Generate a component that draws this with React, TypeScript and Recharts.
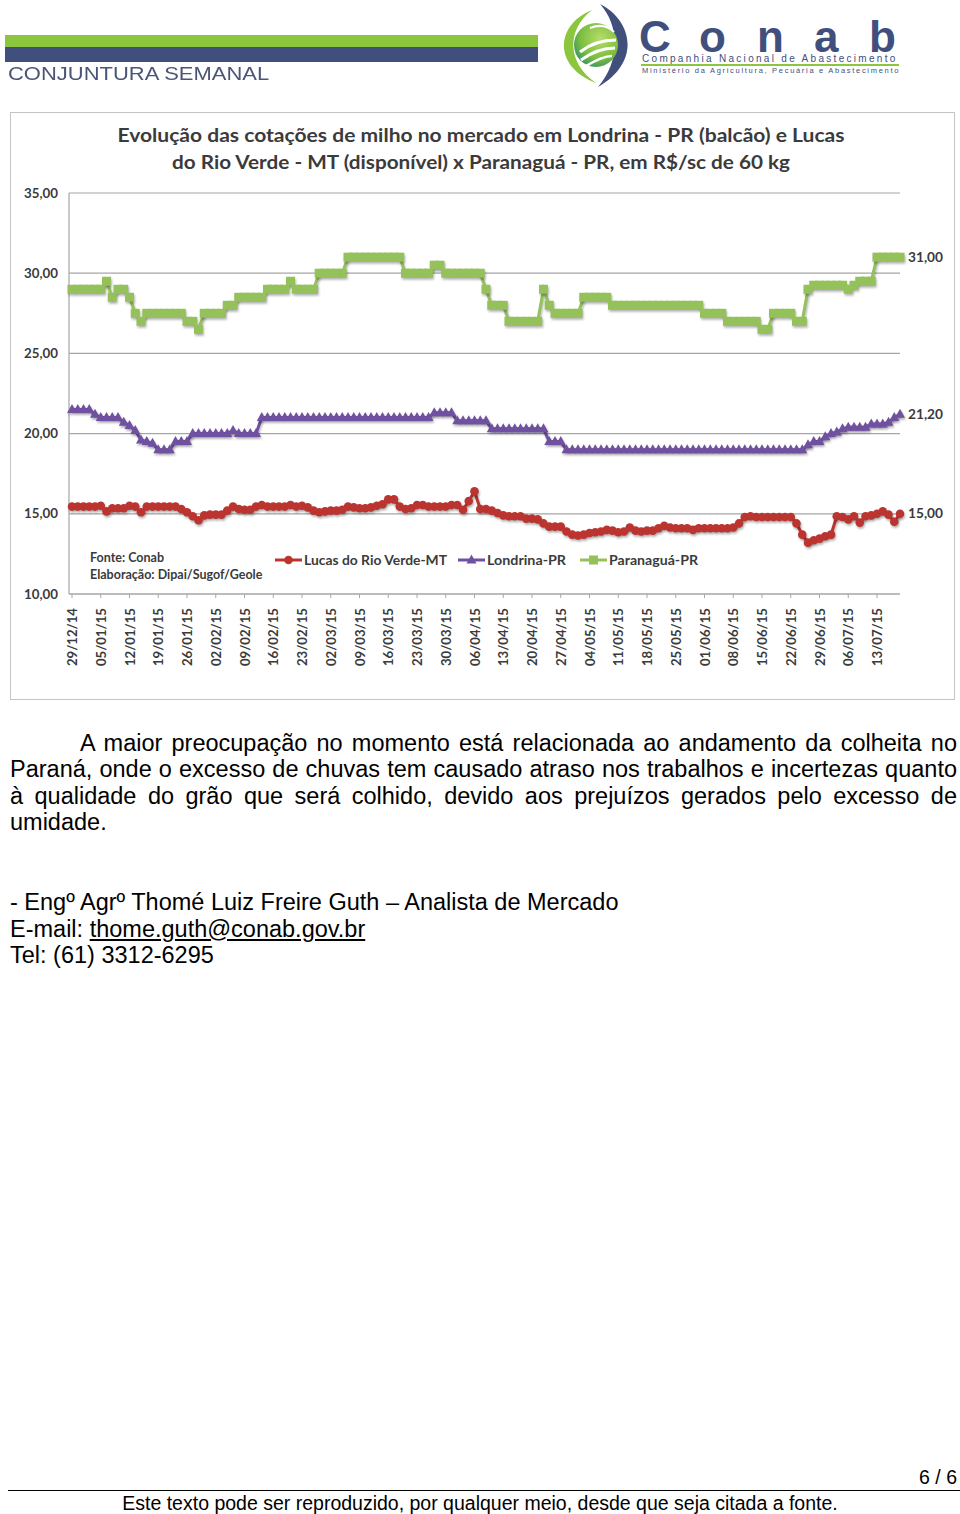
import React from "react";
import { LineChart, Line, XAxis, YAxis, CartesianGrid, Legend, LabelList } from "recharts";

// dias úteis do período
const dates = [
  "29/12/14", "30/12/14", "31/12/14", "01/01/15", "02/01/15",
  "05/01/15", "06/01/15", "07/01/15", "08/01/15", "09/01/15",
  "12/01/15", "13/01/15", "14/01/15", "15/01/15", "16/01/15",
  "19/01/15", "20/01/15", "21/01/15", "22/01/15", "23/01/15",
  "26/01/15", "27/01/15", "28/01/15", "29/01/15", "30/01/15",
  "02/02/15", "03/02/15", "04/02/15", "05/02/15", "06/02/15",
  "09/02/15", "10/02/15", "11/02/15", "12/02/15", "13/02/15",
  "16/02/15", "17/02/15", "18/02/15", "19/02/15", "20/02/15",
  "23/02/15", "24/02/15", "25/02/15", "26/02/15", "27/02/15",
  "02/03/15", "03/03/15", "04/03/15", "05/03/15", "06/03/15",
  "09/03/15", "10/03/15", "11/03/15", "12/03/15", "13/03/15",
  "16/03/15", "17/03/15", "18/03/15", "19/03/15", "20/03/15",
  "23/03/15", "24/03/15", "25/03/15", "26/03/15", "27/03/15",
  "30/03/15", "31/03/15", "01/04/15", "02/04/15", "03/04/15",
  "06/04/15", "07/04/15", "08/04/15", "09/04/15", "10/04/15",
  "13/04/15", "14/04/15", "15/04/15", "16/04/15", "17/04/15",
  "20/04/15", "21/04/15", "22/04/15", "23/04/15", "24/04/15",
  "27/04/15", "28/04/15", "29/04/15", "30/04/15", "01/05/15",
  "04/05/15", "05/05/15", "06/05/15", "07/05/15", "08/05/15",
  "11/05/15", "12/05/15", "13/05/15", "14/05/15", "15/05/15",
  "18/05/15", "19/05/15", "20/05/15", "21/05/15", "22/05/15",
  "25/05/15", "26/05/15", "27/05/15", "28/05/15", "29/05/15",
  "01/06/15", "02/06/15", "03/06/15", "04/06/15", "05/06/15",
  "08/06/15", "09/06/15", "10/06/15", "11/06/15", "12/06/15",
  "15/06/15", "16/06/15", "17/06/15", "18/06/15", "19/06/15",
  "22/06/15", "23/06/15", "24/06/15", "25/06/15", "26/06/15",
  "29/06/15", "30/06/15", "01/07/15", "02/07/15", "03/07/15",
  "06/07/15", "07/07/15", "08/07/15", "09/07/15", "10/07/15",
  "13/07/15", "14/07/15", "15/07/15", "16/07/15", "17/07/15",
];

const lucas = [
  15.45, 15.45, 15.45, 15.45, 15.45, 15.5, 15.15, 15.35, 15.35, 15.35,
  15.5, 15.45, 15.1, 15.45, 15.45, 15.45, 15.45, 15.45, 15.45, 15.3,
  15.1, 14.85, 14.6, 14.9, 14.95, 14.95, 14.95, 15.2, 15.45, 15.3,
  15.25, 15.25, 15.45, 15.55, 15.45, 15.45, 15.45, 15.45, 15.55, 15.45,
  15.5, 15.4, 15.2, 15.1, 15.15, 15.2, 15.2, 15.25, 15.45, 15.4,
  15.35, 15.35, 15.4, 15.5, 15.6, 15.9, 15.9, 15.45, 15.3, 15.35,
  15.55, 15.55, 15.45, 15.45, 15.45, 15.45, 15.55, 15.55, 15.25, 15.8,
  16.4, 15.3, 15.3, 15.2, 15.05, 14.9, 14.85, 14.85, 14.85, 14.7,
  14.7, 14.65, 14.4, 14.2, 14.2, 14.2, 13.9, 13.7, 13.65, 13.7,
  13.8, 13.85, 13.9, 14.0, 13.95, 13.85, 13.9, 14.15, 13.95, 13.9,
  13.95, 13.95, 14.1, 14.25, 14.15, 14.1, 14.1, 14.1, 14.0, 14.1,
  14.1, 14.1, 14.1, 14.1, 14.1, 14.15, 14.4, 14.8, 14.85, 14.8,
  14.8, 14.8, 14.8, 14.8, 14.8, 14.8, 14.4, 13.7, 13.2, 13.35,
  13.45, 13.6, 13.7, 14.85, 14.8, 14.65, 14.85, 14.45, 14.85, 14.9,
  15.0, 15.15, 14.95, 14.5, 15.0,
];

const londrina = [
  21.5, 21.5, 21.5, 21.5, 21.2, 21, 21, 21, 21, 20.7,
  20.5, 20.2, 19.6, 19.5, 19.4, 19, 19, 19, 19.5, 19.5,
  19.5, 20, 20, 20, 20, 20, 20, 20, 20.2, 20,
  20, 20, 20, 21, 21, 21, 21, 21, 21, 21,
  21, 21, 21, 21, 21, 21, 21, 21, 21, 21,
  21, 21, 21, 21, 21, 21, 21, 21, 21, 21,
  21, 21, 21, 21.3, 21.3, 21.3, 21.3, 20.8, 20.8, 20.8,
  20.8, 20.8, 20.8, 20.3, 20.3, 20.3, 20.3, 20.3, 20.3, 20.3,
  20.3, 20.3, 20.3, 19.5, 19.5, 19.5, 19, 19, 19, 19,
  19, 19, 19, 19, 19, 19, 19, 19, 19, 19,
  19, 19, 19, 19, 19, 19, 19, 19, 19, 19,
  19, 19, 19, 19, 19, 19, 19, 19, 19, 19,
  19, 19, 19, 19, 19, 19, 19, 19, 19.3, 19.5,
  19.5, 19.8, 20, 20.1, 20.3, 20.4, 20.4, 20.4, 20.4, 20.6,
  20.6, 20.6, 20.7, 21, 21.2,
];

const paranagua = [
  29, 29, 29, 29, 29, 29, 29.5, 28.5, 29, 29,
  28.5, 27.5, 27, 27.5, 27.5, 27.5, 27.5, 27.5, 27.5, 27.5,
  27, 27, 26.5, 27.5, 27.5, 27.5, 27.5, 28, 28, 28.5,
  28.5, 28.5, 28.5, 28.5, 29, 29, 29, 29, 29.5, 29,
  29, 29, 29, 30, 30, 30, 30, 30, 31, 31,
  31, 31, 31, 31, 31, 31, 31, 31, 30, 30,
  30, 30, 30, 30.5, 30.5, 30, 30, 30, 30, 30,
  30, 30, 29, 28, 28, 28, 27, 27, 27, 27,
  27, 27, 29, 28, 27.5, 27.5, 27.5, 27.5, 27.5, 28.5,
  28.5, 28.5, 28.5, 28.5, 28, 28, 28, 28, 28, 28,
  28, 28, 28, 28, 28, 28, 28, 28, 28, 28,
  27.5, 27.5, 27.5, 27.5, 27, 27, 27, 27, 27, 27,
  26.5, 26.5, 27.5, 27.5, 27.5, 27.5, 27, 27, 29, 29.25,
  29.25, 29.25, 29.25, 29.25, 29.25, 29, 29.25, 29.5, 29.5, 29.5,
  31, 31, 31, 31, 31,
];

const yTicks = [10, 15, 20, 25, 30, 35];

const seriesNames = ["Lucas do Rio Verde-MT", "Londrina-PR", "Paranaguá-PR"];

const titleLines = [
  "Evolução das cotações de milho  no mercado em Londrina - PR (balcão) e Lucas",
  "do Rio Verde - MT (disponível) x Paranaguá - PR, em R$/sc de 60 kg",
];

const paragraph = [
  "A maior preocupação no momento está relacionada ao andamento da colheita no",
  "Paraná, onde o excesso de chuvas tem causado atraso nos trabalhos e incertezas quanto",
  "à qualidade do grão que será colhido, devido aos prejuízos gerados pelo excesso de",
  "umidade.",
];

const rows = dates.map((d, i) => ({
  date: d,
  lucas: lucas[i],
  londrina: londrina[i],
  paranagua: paranagua[i],
}));

const RED = "#bb342f";
const PURPLE = "#7051a1";
const GREEN = "#95c15b";
const GRID = "#a6a6a6";
const TXT = "#3b3b3b";
const NAVY = "#414f7d";
const LIME = "#8cc63e";
const CHART_FONT = "Lato, 'Open Sans', sans-serif";
const BODY_FONT = "'Liberation Sans', Arial, sans-serif";
const LAST = dates.length - 1;

const fmt = (v: number) => v.toFixed(2).replace(".", ",");

function marker(shape: string, cx: number, cy: number, color: string, key?: any) {
  if (shape === "circle") return <circle key={key} cx={cx} cy={cy} r={4.3} fill={color} />;
  if (shape === "triangle")
    return <polygon key={key} points={`${cx},${cy - 5.5} ${cx + 5},${cy + 3.5} ${cx - 5},${cy + 3.5}`} fill={color} />;
  return <rect key={key} x={cx - 4.5} y={cy - 4.5} width={9} height={9} fill={color} />;
}

const makeDot = (shape: string, color: string) => (p: any) => {
  if (p.cx == null || p.cy == null) return <g key={p.index} />;
  return marker(shape, p.cx, p.cy, color, p.index);
};

const endLabel = (p: any) => {
  if (p.index !== LAST) return null;
  return (
    <text x={p.x + 8} y={p.y} dy={4.5} fontFamily={CHART_FONT} fontWeight={700} fontSize={13} fill={TXT}
      textLength={35} lengthAdjust="spacingAndGlyphs">
      {fmt(p.value)}
    </text>
  );
};

function DateTick(props: any) {
  const { x, y, payload } = props;
  return (
    <g transform={`translate(${x},${y + 8})`}>
      <text transform="rotate(-90)" textAnchor="end" dominantBaseline="central" fontFamily={CHART_FONT}
        fontWeight={700} fontSize={13.5} fill={TXT} textLength={58} lengthAdjust="spacingAndGlyphs">
        {payload.value}
      </text>
    </g>
  );
}

function ValueTick(props: any) {
  const { x, y, payload } = props;
  return (
    <text x={x} y={y} dy={4.5} textAnchor="end" fontFamily={CHART_FONT} fontWeight={700} fontSize={13}
      fill={TXT} textLength={34} lengthAdjust="spacingAndGlyphs">
      {fmt(payload.value)}
    </text>
  );
}

const legendX = [265, 448, 570];
const legendShapes = ["circle", "triangle", "square"];
const legendTextW = [143, 79, 89];

const renderLegend = (props: any) => {
  const items = [...(props.payload || [])].sort(
    (a: any, b: any) => seriesNames.indexOf(a.value) - seriesNames.indexOf(b.value)
  );
  return (
    <svg width={945} height={20} style={{ display: "block" }}>
      {items.map((it: any, i: number) => {
        const x0 = legendX[i];
        return (
          <g key={it.value}>
            <line x1={x0} x2={x0 + 27} y1={10} y2={10} stroke={it.color} strokeWidth={3} />
            {marker(legendShapes[i], x0 + 13.5, 10, it.color)}
            <text x={x0 + 29} y={10} dy={4.5} fontFamily={CHART_FONT} fontWeight={700} fontSize={13} fill={TXT}
              textLength={legendTextW[i]} lengthAdjust="spacingAndGlyphs">
              {it.value}
            </text>
          </g>
        );
      })}
    </svg>
  );
};

function Logo() {
  return (
    <svg width={90} height={90} style={{ position: "absolute", left: 550, top: 0 }}>
      <defs>
        <radialGradient id="globe" cx="0.6" cy="0.35" r="0.75">
          <stop offset="0%" stopColor="#b6dc6a" />
          <stop offset="60%" stopColor="#7dbf3f" />
          <stop offset="100%" stopColor="#2b8c6b" />
        </radialGradient>
      </defs>
      <path d="M42 10 C6 24 2 66 46 83 C17 63 16 30 42 10 Z" fill={LIME} />
      <path d="M50 4 C82 20 92 62 48 87 C70 62 70 26 50 4 Z" fill={NAVY} />
      <circle cx={46} cy={45} r={22} fill="url(#globe)" />
      <path d="M30 52 C40 44 52 40 66 40" stroke="#fff" strokeWidth={3} fill="none" />
      <path d="M31 60 C42 52 54 48 65 48" stroke="#fff" strokeWidth={3} fill="none" />
      <path d="M36 66 C46 60 56 56 62 56" stroke="#fff" strokeWidth={2.5} fill="none" />
      <path d="M40 28 C50 24 58 26 64 32" stroke="#fff" strokeWidth={2} fill="none" />
    </svg>
  );
}

const conabLetters = ["C", "o", "n", "a", "b"];
const conabX = [639, 699, 757, 814, 869];

export default function App() {
  return (
    <div style={{ position: "absolute", left: 0, top: 0, width: 960, height: 1514, background: "#fff", overflow: "hidden" }}>
      <style>{`.recharts-line-curve, .recharts-line-dots { filter: drop-shadow(1px 2px 1px rgba(0,0,0,0.28)); }`}</style>

      {/* cabeçalho */}
      <div style={{ position: "absolute", left: 5, top: 35, width: 533, height: 12, background: LIME }} />
      <div style={{ position: "absolute", left: 5, top: 47, width: 533, height: 15, background: NAVY }} />
      <div style={{ position: "absolute", left: 8, top: 65, fontFamily: BODY_FONT, fontSize: 18, lineHeight: "18px", color: "#4b5578", transform: "scaleX(1.22)", transformOrigin: "left top", whiteSpace: "nowrap" }}>
        CONJUNTURA SEMANAL
      </div>
      <Logo />
      {conabLetters.map((c, i) => (
        <div key={i} style={{ position: "absolute", left: conabX[i], top: 22, fontFamily: BODY_FONT, fontWeight: 700, fontSize: 44, lineHeight: "30px", color: NAVY }}>
          {c}
        </div>
      ))}
      <div style={{ position: "absolute", left: 642, top: 54, fontFamily: BODY_FONT, fontSize: 10, lineHeight: "9px", color: NAVY, letterSpacing: 2.3, whiteSpace: "nowrap" }}>
        Companhia Nacional de Abastecimento
      </div>
      <div style={{ position: "absolute", left: 641, top: 64, width: 258, height: 2, background: LIME }} />
      <div style={{ position: "absolute", left: 642, top: 67, fontFamily: BODY_FONT, fontSize: 7.5, lineHeight: "8px", color: NAVY, letterSpacing: 1.7, whiteSpace: "nowrap" }}>
        Ministério da Agricultura, Pecuária e Abastecimento
      </div>

      {/* gráfico */}
      <div style={{ position: "absolute", left: 10, top: 112, width: 945, height: 588, boxSizing: "border-box", border: "1.5px solid #c4c4c4" }} />
      <div style={{ position: "absolute", left: 10, top: 112, width: 945, height: 588 }}>
        <svg width={945} height={80} style={{ position: "absolute", left: 0, top: 0 }}>
          {titleLines.map((t, i) => (
            <text key={i} x={471} y={24 + i * 27} dy={6} textAnchor="middle" fontFamily={CHART_FONT} fontWeight={700}
              fontSize={18} fill={TXT} textLength={i === 0 ? 727 : 618} lengthAdjust="spacingAndGlyphs">
              {t}
            </text>
          ))}
        </svg>
        <LineChart width={945} height={588} data={rows} margin={{ top: 81, right: 55, left: 0, bottom: 0 }}>
          <CartesianGrid vertical={false} stroke={GRID} strokeWidth={1.2} />
          <XAxis dataKey="date" interval={4} height={106} padding={{ left: 3, right: 0 }}
            axisLine={{ stroke: GRID, strokeWidth: 1.2 }} tickLine={{ stroke: GRID }} tickSize={4} tick={<DateTick />} />
          <YAxis domain={[10, 35]} ticks={yTicks} width={59} axisLine={{ stroke: GRID, strokeWidth: 1.2 }}
            tickLine={false} tickMargin={5} tick={<ValueTick />} />
          <Legend verticalAlign="middle" align="center" layout="horizontal" content={renderLegend}
            wrapperStyle={{ left: 0, top: 438, width: 945, height: 20 }} />
          <Line dataKey="lucas" name={seriesNames[0]} stroke={RED} strokeWidth={3} dot={makeDot("circle", RED)}
            activeDot={false} isAnimationActive={false}>
            <LabelList dataKey="lucas" content={endLabel} />
          </Line>
          <Line dataKey="londrina" name={seriesNames[1]} stroke={PURPLE} strokeWidth={3} dot={makeDot("triangle", PURPLE)}
            activeDot={false} isAnimationActive={false}>
            <LabelList dataKey="londrina" content={endLabel} />
          </Line>
          <Line dataKey="paranagua" name={seriesNames[2]} stroke={GREEN} strokeWidth={3} dot={makeDot("square", GREEN)}
            activeDot={false} isAnimationActive={false}>
            <LabelList dataKey="paranagua" content={endLabel} />
          </Line>
        </LineChart>
        <div style={{ position: "absolute", left: 80, top: 437, fontFamily: CHART_FONT, fontWeight: 700, fontSize: 12.5, lineHeight: "17px", color: TXT, whiteSpace: "nowrap" }}>
          <div>Fonte: Conab</div>
          <div>Elaboração: Dipai/Sugof/Geole</div>
        </div>
      </div>

      {/* texto */}
      {paragraph.map((t, i) => (
        <div key={i} style={{
          position: "absolute", left: i === 0 ? 80 : 10, width: i === 0 ? 877 : 947, top: 730 + i * 26.4,
          fontFamily: BODY_FONT, fontSize: 23.5, lineHeight: "26px", color: "#000",
          textAlign: "justify", textAlignLast: i < paragraph.length - 1 ? "justify" : "left",
        }}>
          {t}
        </div>
      ))}
      <div style={{ position: "absolute", left: 10, top: 889, fontFamily: BODY_FONT, fontSize: 23.5, lineHeight: "26.5px", color: "#000", whiteSpace: "nowrap" }}>
        <div>- Engº Agrº Thomé Luiz Freire Guth – Analista de Mercado</div>
        <div>E-mail: <span style={{ textDecoration: "underline" }}>thome.guth@conab.gov.br</span></div>
        <div>Tel: (61) 3312-6295</div>
      </div>

      {/* rodapé */}
      <div style={{ position: "absolute", right: 3, top: 1466, fontFamily: BODY_FONT, fontSize: 19.5, lineHeight: "22px", color: "#000" }}>6 / 6</div>
      <div style={{ position: "absolute", left: 8, top: 1490, width: 952, height: 1.3, background: "#000" }} />
      <div style={{ position: "absolute", left: 0, width: 960, top: 1492, textAlign: "center", fontFamily: BODY_FONT, fontSize: 19.5, lineHeight: "22px", color: "#000" }}>
        Este texto pode ser reproduzido, por qualquer meio, desde que seja citada a fonte.
      </div>
    </div>
  );
}
